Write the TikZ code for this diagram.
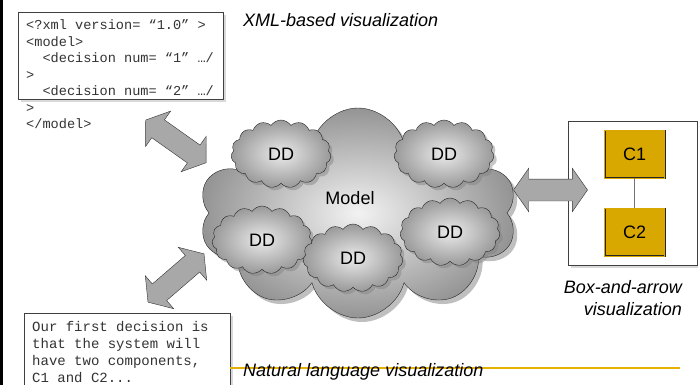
\documentclass[tikz,border=0pt]{standalone}
\usepackage{fontspec}
\setmainfont{Liberation Sans}
\setmonofont{Liberation Mono}
\usetikzlibrary{positioning,shapes.symbols,shapes.arrows,shadows}

\definecolor{compgold}{RGB}{217,168,0}
\definecolor{rulegold}{RGB}{230,176,0}
\definecolor{arrowgrey}{RGB}{168,168,168}

\begin{document}
\begin{tikzpicture}[
  x=1pt, y=-1pt,
  textbox/.style={draw=black!75, fill=white, inner sep=0pt,
    drop shadow={opacity=0.3, shadow xshift=3pt, shadow yshift=-3pt}},
  codetext/.style={align=left, inner sep=0pt, text=black!80, font=\ttfamily},
  caption/.style={inner sep=0pt, font=\fontsize{18}{21.5}\selectfont\itshape},
  labeltext/.style={inner sep=0pt, font=\fontsize{18}{20}\selectfont},
  modelcloud/.style={cloud, cloud puffs=10, cloud ignores aspect, draw=black!85,
    inner color=white!95!black, outer color=black!42,
    minimum width=318pt, minimum height=210pt,
    drop shadow={opacity=0.5, shadow xshift=4pt, shadow yshift=-4pt}},
  ddcloud/.style={cloud, cloud puffs=15, cloud puff arc=115, cloud ignores aspect,
    draw=black!85, inner color=white!92!black, outer color=black!40,
    minimum width=100pt, minimum height=68pt, inner sep=0pt,
    drop shadow={opacity=0.45, shadow xshift=3pt, shadow yshift=-3pt},
    font=\fontsize{18}{20}\selectfont},
  bigarrow/.style={double arrow, draw=black!80, fill=arrowgrey,
    minimum height=74pt, inner xsep=0pt, inner ysep=10.75pt,
    double arrow head extend=10.75pt, double arrow tip angle=110},
  compbox/.style={draw=black!85, double=compgold, double distance=1pt,
    fill=compgold, minimum width=60pt, minimum height=47.5pt, inner sep=0pt,
    font=\fontsize{18}{20}\selectfont},
  linkline/.style={draw=black!55, line width=0.9pt}
]
\useasboundingbox (0,0) rectangle (698,385);
\clip (0,0) rectangle (698,385);

% Left edge bar
\fill[black] (0,0) rectangle (3,385);

% XML text view
\node[textbox, minimum width=205pt, minimum height=87pt, anchor=north west] (xmlbox) at (18,12) {};
\node[codetext, anchor=north west, font=\ttfamily\fontsize{13.6}{16.5}\selectfont] (xmlcode) at (26,19.6)
  {<?xml version= “1.0” >\\<model>\\\phantom{ab}<decision num= “1” …/\\>\\\phantom{ab}<decision num= “2” …/\\>\\</model>};
\node[caption, anchor=base west] (xmlcap) at (243,27) {XML-based visualization};

% Natural language view
\node[textbox, minimum width=206pt, minimum height=90pt, anchor=north west] (nlbox) at (24,313) {};
\node[codetext, anchor=north west, font=\ttfamily\fontsize{14}{16.8}\selectfont] (nltext) at (32,321.6)
  {Our first decision is\\that the system will\\have two components,\\C1 and C2...};
\draw[draw=rulegold, line width=1.6pt] (230,367.7) -- (680,367.7);
\node[caption, anchor=base west] (nlcap) at (243,376.5) {Natural language visualization};

% Model cloud with design decisions
\node[modelcloud] (model) at (358,213) {};
\node[labeltext] (modellabel) at (350,198) {Model};
\node[ddcloud] (dd1) at (281,154) {DD};
\node[ddcloud] (dd2) at (444,154) {DD};
\node[ddcloud] (dd3) at (262,240) {DD};
\node[ddcloud] (dd4) at (353,258) {DD};
\node[ddcloud] (dd5) at (450,232) {DD};

% Box-and-arrow view
\node[textbox, minimum width=129pt, minimum height=144pt, anchor=north west] (viewbox) at (568,121) {};
\node[compbox] (c1) at (634.7,154.3) {C1};
\node[compbox] (c2) at (634.7,232.3) {C2};
\draw[linkline] (c1) -- (c2);
\node[caption, align=right, anchor=north east] (boxcap) at (682,280.5) {Box-and-arrow\\visualization};

% Two-way arrows
\node[bigarrow, rotate=-35.3] (xmlarrow) at (175.9,141.4) {};
\node[bigarrow, rotate=40.8] (nlarrow) at (176,278) {};
\node[bigarrow] (boxarrow) at (550.5,190) {};
\end{tikzpicture}
\end{document}
